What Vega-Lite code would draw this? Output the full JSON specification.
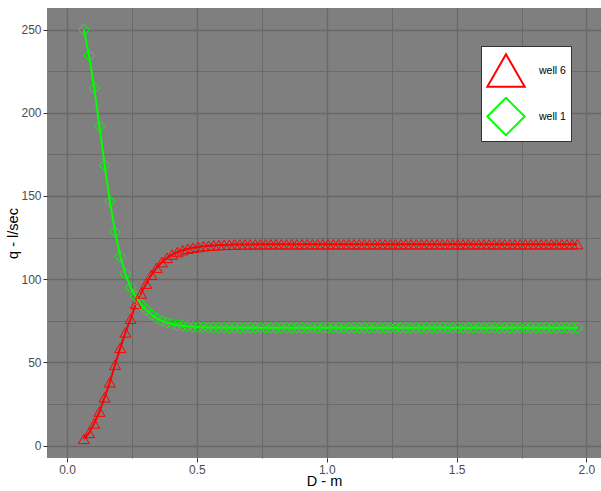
{
  "$schema": "https://vega.github.io/schema/vega-lite/v6.json",
  "width": 554,
  "height": 450,
  "autosize": {"type": "none"},
  "padding": {"left": 47, "top": 8, "right": 0, "bottom": 33},
  "background": "white",
  "view": {"fill": "#7f7f7f", "stroke": null},
  "config": {
    "font": "Liberation Sans",
    "axis": {
      "domain": false,
      "gridColor": "#686868",
      "tickColor": "#333333",
      "tickSize": 4,
      "labelColor": "#4d4d4d",
      "labelFontSize": 12,
      "labelFont": "Liberation Sans",
      "titleFont": "Liberation Sans",
      "titleFontSize": 14.5,
      "titleFontWeight": "normal",
      "titleColor": "#000000",
      "labelOverlap": false,
      "labelFlush": false
    },
    "legend": {
      "fillColor": "white",
      "strokeColor": "#333333",
      "padding": 5,
      "rowPadding": 7,
      "clipHeight": 39,
      "symbolSize": 1400,
      "symbolStrokeWidth": 2,
      "labelOffset": 13,
      "labelFontSize": 10.5,
      "labelColor": "#000000",
      "labelFont": "Liberation Sans"
    }
  },
  "data": {
    "values": [
      {"D": 0.065, "well 6": 4.0, "well 1": 250.0},
      {"D": 0.085, "well 6": 7.6, "well 1": 234.4},
      {"D": 0.105, "well 6": 13.3, "well 1": 214.9},
      {"D": 0.125, "well 6": 20.4, "well 1": 191.8},
      {"D": 0.145, "well 6": 29.0, "well 1": 168.4},
      {"D": 0.165, "well 6": 38.0, "well 1": 146.7},
      {"D": 0.185, "well 6": 48.6, "well 1": 128.4},
      {"D": 0.205, "well 6": 58.7, "well 1": 113.6},
      {"D": 0.225, "well 6": 68.0, "well 1": 103.2},
      {"D": 0.245, "well 6": 76.2, "well 1": 95.0},
      {"D": 0.265, "well 6": 85.2, "well 1": 89.5},
      {"D": 0.285, "well 6": 91.4, "well 1": 84.8},
      {"D": 0.305, "well 6": 97.3, "well 1": 81.5},
      {"D": 0.325, "well 6": 102.6, "well 1": 78.6},
      {"D": 0.345, "well 6": 106.8, "well 1": 76.5},
      {"D": 0.365, "well 6": 110.2, "well 1": 75.0},
      {"D": 0.385, "well 6": 112.8, "well 1": 73.9},
      {"D": 0.405, "well 6": 114.8, "well 1": 73.1},
      {"D": 0.425, "well 6": 116.3, "well 1": 72.5},
      {"D": 0.445, "well 6": 117.4, "well 1": 72.0},
      {"D": 0.465, "well 6": 118.3, "well 1": 71.7},
      {"D": 0.485, "well 6": 118.9, "well 1": 71.4},
      {"D": 0.505, "well 6": 119.4, "well 1": 71.2},
      {"D": 0.525, "well 6": 119.8, "well 1": 71.1},
      {"D": 0.545, "well 6": 120.1, "well 1": 71.0},
      {"D": 0.565, "well 6": 120.3, "well 1": 70.9},
      {"D": 0.585, "well 6": 120.5, "well 1": 70.85},
      {"D": 0.605, "well 6": 120.6, "well 1": 70.8},
      {"D": 0.625, "well 6": 120.7, "well 1": 70.8},
      {"D": 0.645, "well 6": 120.8, "well 1": 70.8},
      {"D": 0.665, "well 6": 120.85, "well 1": 70.8},
      {"D": 0.685, "well 6": 120.9, "well 1": 70.8},
      {"D": 0.705, "well 6": 120.9, "well 1": 70.8},
      {"D": 0.725, "well 6": 120.95, "well 1": 70.8},
      {"D": 0.745, "well 6": 120.95, "well 1": 70.8},
      {"D": 0.765, "well 6": 121.0, "well 1": 70.8},
      {"D": 0.785, "well 6": 121.0, "well 1": 70.8},
      {"D": 0.805, "well 6": 121.0, "well 1": 70.8},
      {"D": 0.825, "well 6": 121.0, "well 1": 70.8},
      {"D": 0.845, "well 6": 121.0, "well 1": 70.8},
      {"D": 0.865, "well 6": 121.0, "well 1": 70.8},
      {"D": 0.885, "well 6": 121.0, "well 1": 70.8},
      {"D": 0.905, "well 6": 121.0, "well 1": 70.8},
      {"D": 0.925, "well 6": 121.0, "well 1": 70.8},
      {"D": 0.945, "well 6": 121.0, "well 1": 70.8},
      {"D": 0.965, "well 6": 121.0, "well 1": 70.8},
      {"D": 0.985, "well 6": 121.0, "well 1": 70.8},
      {"D": 1.005, "well 6": 121.0, "well 1": 70.8},
      {"D": 1.025, "well 6": 121.0, "well 1": 70.8},
      {"D": 1.045, "well 6": 121.0, "well 1": 70.8},
      {"D": 1.065, "well 6": 121.0, "well 1": 70.8},
      {"D": 1.085, "well 6": 121.0, "well 1": 70.8},
      {"D": 1.105, "well 6": 121.0, "well 1": 70.8},
      {"D": 1.125, "well 6": 121.0, "well 1": 70.8},
      {"D": 1.145, "well 6": 121.0, "well 1": 70.8},
      {"D": 1.165, "well 6": 121.0, "well 1": 70.8},
      {"D": 1.185, "well 6": 121.0, "well 1": 70.8},
      {"D": 1.205, "well 6": 121.0, "well 1": 70.8},
      {"D": 1.225, "well 6": 121.0, "well 1": 70.8},
      {"D": 1.245, "well 6": 121.0, "well 1": 70.8},
      {"D": 1.265, "well 6": 121.0, "well 1": 70.8},
      {"D": 1.285, "well 6": 121.0, "well 1": 70.8},
      {"D": 1.305, "well 6": 121.0, "well 1": 70.8},
      {"D": 1.325, "well 6": 121.0, "well 1": 70.8},
      {"D": 1.345, "well 6": 121.0, "well 1": 70.8},
      {"D": 1.365, "well 6": 121.0, "well 1": 70.8},
      {"D": 1.385, "well 6": 121.0, "well 1": 70.8},
      {"D": 1.405, "well 6": 121.0, "well 1": 70.8},
      {"D": 1.425, "well 6": 121.0, "well 1": 70.8},
      {"D": 1.445, "well 6": 121.0, "well 1": 70.8},
      {"D": 1.465, "well 6": 121.0, "well 1": 70.8},
      {"D": 1.485, "well 6": 121.0, "well 1": 70.8},
      {"D": 1.505, "well 6": 121.0, "well 1": 70.8},
      {"D": 1.525, "well 6": 121.0, "well 1": 70.8},
      {"D": 1.545, "well 6": 121.0, "well 1": 70.8},
      {"D": 1.565, "well 6": 121.0, "well 1": 70.8},
      {"D": 1.585, "well 6": 121.0, "well 1": 70.8},
      {"D": 1.605, "well 6": 121.0, "well 1": 70.8},
      {"D": 1.625, "well 6": 121.0, "well 1": 70.8},
      {"D": 1.645, "well 6": 121.0, "well 1": 70.8},
      {"D": 1.665, "well 6": 121.0, "well 1": 70.8},
      {"D": 1.685, "well 6": 121.0, "well 1": 70.8},
      {"D": 1.705, "well 6": 121.0, "well 1": 70.8},
      {"D": 1.725, "well 6": 121.0, "well 1": 70.8},
      {"D": 1.745, "well 6": 121.0, "well 1": 70.8},
      {"D": 1.765, "well 6": 121.0, "well 1": 70.8},
      {"D": 1.785, "well 6": 121.0, "well 1": 70.8},
      {"D": 1.805, "well 6": 121.0, "well 1": 70.8},
      {"D": 1.825, "well 6": 121.0, "well 1": 70.8},
      {"D": 1.845, "well 6": 121.0, "well 1": 70.8},
      {"D": 1.865, "well 6": 121.0, "well 1": 70.8},
      {"D": 1.885, "well 6": 121.0, "well 1": 70.8},
      {"D": 1.905, "well 6": 121.0, "well 1": 70.8},
      {"D": 1.925, "well 6": 121.0, "well 1": 70.8},
      {"D": 1.945, "well 6": 121.0, "well 1": 70.8},
      {"D": 1.965, "well 6": 121.0, "well 1": 70.8}
    ]
  },
  "transform": [{"fold": ["well 6", "well 1"], "as": ["well", "q"]}],
  "encoding": {
    "x": {
      "field": "D",
      "type": "quantitative",
      "title": "D - m",
      "scale": {"domain": [-0.077, 2.056], "nice": false, "zero": false},
      "axis": {
        "values": [0, 0.25, 0.5, 0.75, 1, 1.25, 1.5, 1.75, 2],
        "labelExpr": "datum.value % 0.5 === 0 ? format(datum.value, '.1f') : ''",
        "tickOpacity": {"condition": {"test": "datum.value % 0.5 === 0", "value": 1}, "value": 0},
        "gridWidth": {"condition": {"test": "datum.value % 0.5 === 0", "value": 1.3}, "value": 0.9},
        "labelPadding": 2,
        "titleY": 27,
        "titleBaseline": "alphabetic"
      }
    },
    "y": {
      "field": "q",
      "type": "quantitative",
      "title": "q - l/sec",
      "scale": {"domain": [-7.5, 263], "nice": false, "zero": false},
      "axis": {
        "values": [0, 25, 50, 75, 100, 125, 150, 175, 200, 225, 250],
        "labelExpr": "datum.value % 50 === 0 ? datum.value : ''",
        "tickOpacity": {"condition": {"test": "datum.value % 50 === 0", "value": 1}, "value": 0},
        "gridWidth": {"condition": {"test": "datum.value % 50 === 0", "value": 1.3}, "value": 0.9},
        "labelPadding": 2,
        "titleX": -34,
        "titleY": 225,
        "titleAngle": 270,
        "titleAlign": "center",
        "titleBaseline": "middle"
      }
    }
  },
  "layer": [
    {
      "transform": [{"filter": "datum.well === 'well 6'"}],
      "mark": {"type": "line", "strokeWidth": 2, "color": "#ff0000"},
      "encoding": {}
    },
    {
      "transform": [{"filter": "datum.well === 'well 1'"}],
      "mark": {"type": "line", "strokeWidth": 2, "color": "#00ff00"},
      "encoding": {}
    },
    {
      "mark": {"type": "point", "filled": false, "size": 120, "strokeWidth": 1, "opacity": 1},
      "encoding": {
        "color": {
          "field": "well",
          "type": "nominal",
          "scale": {"domain": ["well 6", "well 1"], "range": ["#ff0000", "#00ff00"]},
          "legend": {"title": null, "orient": "none", "legendX": 434, "legendY": 38}
        },
        "shape": {
          "field": "well",
          "type": "nominal",
          "scale": {"domain": ["well 6", "well 1"], "range": ["triangle-up", "diamond"]},
          "legend": {"title": null, "orient": "none", "legendX": 434, "legendY": 38}
        }
      }
    }
  ]
}
